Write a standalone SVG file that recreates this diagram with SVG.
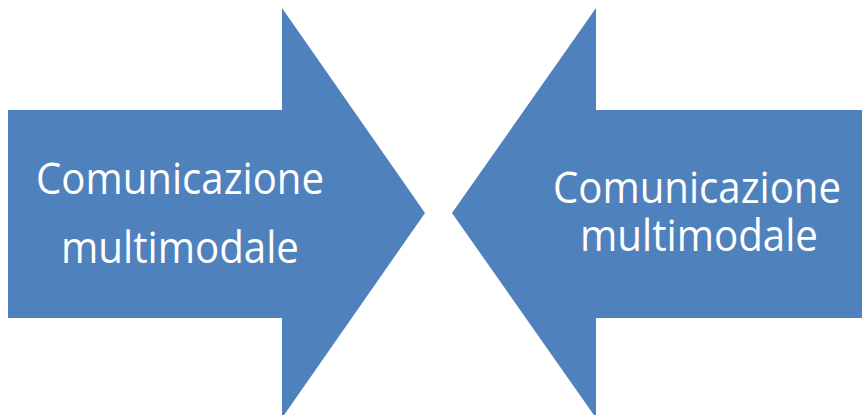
<svg xmlns="http://www.w3.org/2000/svg" width="862" height="415" viewBox="0 0 862 415">
<style>
.arrow{fill:#4F81BD;stroke:none}
.lbl{fill:#FFFFFF;font-family:"Open Sans","Liberation Sans",sans-serif;font-size:44px;text-anchor:middle}
</style>
<rect width="862" height="415" fill="#FFFFFF"/>
<g id="left-arrow">
<polygon class="arrow" points="8,110 282,110 282,8 425,213 282,418 282,318 8,318"/>
<text class="lbl" x="180" y="194" textLength="288" lengthAdjust="spacingAndGlyphs">Comunicazione</text>
<text class="lbl" x="180" y="263" textLength="238" lengthAdjust="spacingAndGlyphs">multimodale</text>
</g>
<g id="right-arrow">
<polygon class="arrow" points="864,110 596,110 596,8 452,213 596,418 596,318 864,318"/>
<text class="lbl" x="697" y="203" textLength="288" lengthAdjust="spacingAndGlyphs">Comunicazione</text>
<text class="lbl" x="699" y="251" textLength="238" lengthAdjust="spacingAndGlyphs">multimodale</text>
</g>
<g id="connectors"/>
</svg>
